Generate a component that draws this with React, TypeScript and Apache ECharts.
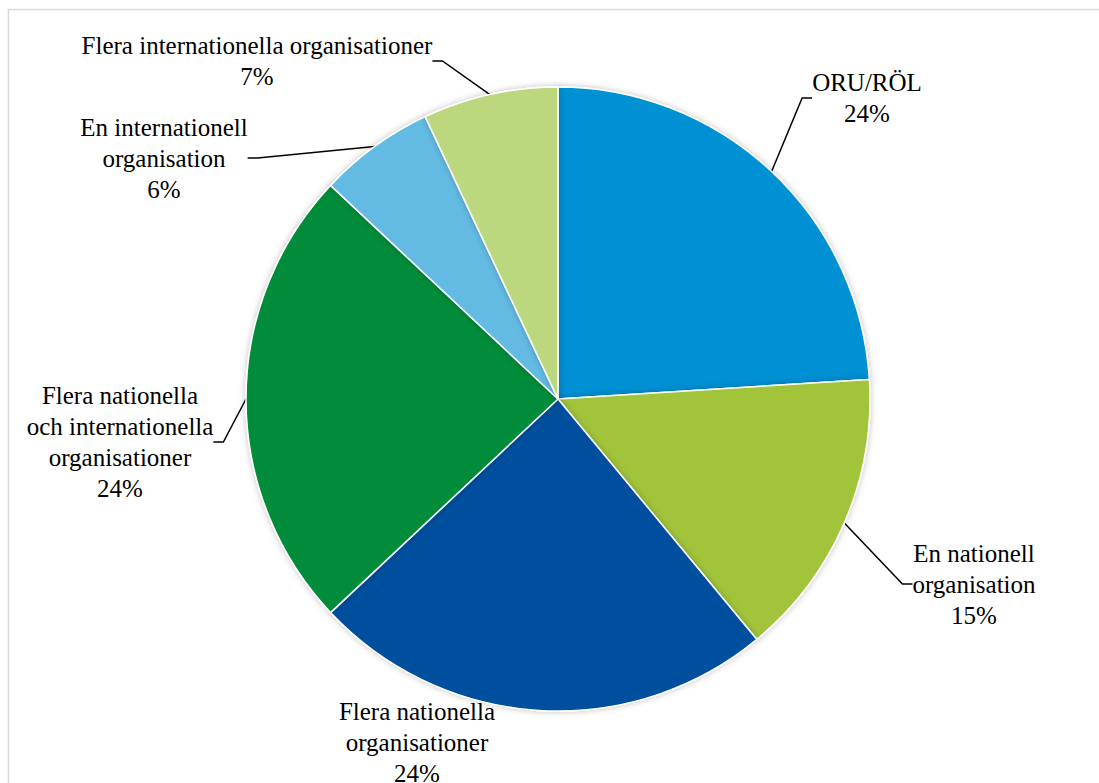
import React, { useEffect, useRef } from "react";
import * as echarts from "echarts";

const categories = [
  "ORU/RÖL",
  "En nationell organisation",
  "Flera nationella organisationer",
  "Flera nationella och internationella organisationer",
  "En internationell organisation",
  "Flera internationella organisationer",
];
const labelTexts = [
  "ORU/RÖL",
  "En nationell\norganisation",
  "Flera nationella\norganisationer",
  "Flera nationella\noch internationella\norganisationer",
  "En internationell\norganisation",
  "Flera internationella organisationer",
];
const values = [24, 15, 24, 24, 6, 7];
const colors = ["#0090D4", "#A2C43B", "#004F9F", "#008C3A", "#64BBE3", "#BCD87F"];
// label block centres (x, y) in pixels
const labelCentres: [number, number][] = [
  [867, 98],
  [974, 584],
  [417, 742],
  [120, 442],
  [164, 158],
  [257, 61],
];
const showLeader = [true, true, false, true, true, true];

const FONT = "Liberation Serif";

export default function App() {
  const ref = useRef<HTMLDivElement>(null);
  useEffect(() => {
    if (!ref.current) return;
    const chart = echarts.init(ref.current, undefined, { renderer: "svg" });
    chart.setOption({
      animation: false,
      backgroundColor: "#ffffff",
      textStyle: { fontFamily: FONT },
      graphic: [
        {
          type: "rect",
          shape: { x: 8.5, y: 9.5, width: 1200, height: 900 },
          style: { fill: "none", stroke: "#d9d9d9", lineWidth: 1.5 },
          silent: true,
        },
      ],
      series: [
        {
          type: "pie",
          center: [558, 399],
          radius: 312,
          startAngle: 90,
          clockwise: true,
          avoidLabelOverlap: false,
          data: categories.map((name, i) => ({
            name,
            value: values[i],
            itemStyle: { color: colors[i] },
            labelLine: { show: showLeader[i] },
          })),
          itemStyle: {
            borderColor: "#ffffff",
            borderWidth: 1.5,
            shadowBlur: 6,
            shadowColor: "rgba(0,0,0,0.25)",
          },
          label: {
            show: true,
            position: "outside",
            formatter: (p: any) =>
              (labelTexts[p.dataIndex] + "\n" + Math.round(p.percent) + "%")
                .split("\n")
                .map((s) => "{t|" + s + "}")
                .join("\n"),
            fontFamily: FONT,
            fontSize: 25,
            lineHeight: 31,
            color: "#000000",
            align: "center",
            rich: {
              t: {
                fontFamily: FONT,
                fontSize: 25,
                lineHeight: 31,
                color: "#000000",
                align: "center",
              },
            },
          },
          labelLine: {
            show: true,
            length: 20,
            length2: 10,
            lineStyle: { color: "#000000", width: 1.5 },
          },
          labelLayout: (params: any) => {
            const c = labelCentres[params.dataIndex];
            return {
              x: c[0],
              y: c[1],
              align: "center",
              verticalAlign: "middle",
            };
          },
          emphasis: { disabled: true },
        },
      ],
    });
    return () => chart.dispose();
  }, []);
  return (
    <div
      ref={ref}
      style={{ position: "absolute", left: 0, top: 0, width: 1099, height: 783 }}
    />
  );
}
